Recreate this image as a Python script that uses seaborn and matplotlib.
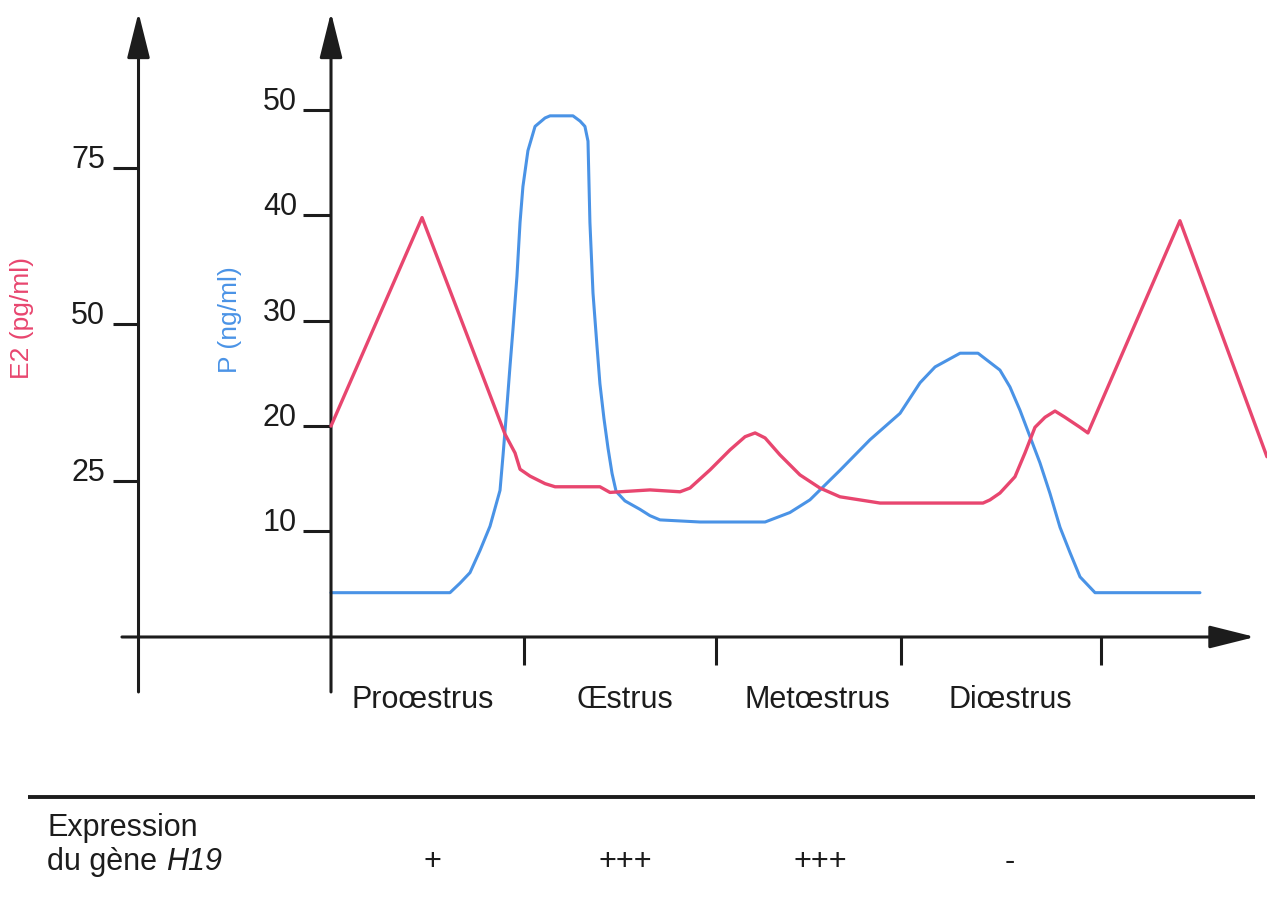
import matplotlib
matplotlib.use("Agg")
import matplotlib.pyplot as plt
import seaborn as sns

# position on the cycle: 0..4 = phase boundaries
e2_x = [0.000, 0.473, 0.904, 0.956, 0.982, 1.034, 1.112, 1.164, 1.397, 1.449,
        1.657, 1.813, 1.865, 1.969, 2.073, 2.151, 2.203, 2.255, 2.332, 2.436,
        2.540, 2.644, 2.748, 2.852, 3.387, 3.423, 3.475, 3.553, 3.605, 3.657,
        3.709, 3.761, 3.813, 3.891, 3.932, 4.410, 4.862]
e2_val = [33.7, 67.0, 32.4, 29.4, 26.8, 25.7, 24.5, 24.0, 24.0, 23.1,
          23.5, 23.2, 23.8, 26.7, 29.9, 32.0, 32.6, 31.8, 29.1, 25.9,
          23.8, 22.4, 21.9, 21.4, 21.4, 21.9, 23.0, 25.6, 29.4, 33.5,
          35.1, 36.1, 35.1, 33.5, 32.6, 66.5, 28.8]

p_x = [0.000, 0.618, 0.670, 0.722, 0.774, 0.826, 0.852, 0.878, 0.894, 0.909,
       0.930, 0.945, 0.966, 0.982, 0.997, 1.023, 1.060, 1.112, 1.138, 1.257,
       1.294, 1.319, 1.335, 1.345, 1.361, 1.382, 1.397, 1.418, 1.439, 1.460,
       1.481, 1.527, 1.605, 1.657, 1.709, 1.917, 2.255, 2.384, 2.488, 2.644,
       2.800, 2.956, 3.060, 3.138, 3.268, 3.361, 3.475, 3.527, 3.579, 3.631,
       3.683, 3.735, 3.787, 3.839, 3.891, 3.969, 4.514]
p_val = [4.2, 4.2, 5.1, 6.1, 8.2, 10.5, 12.2, 13.9, 17.3, 20.7,
         25.7, 29.1, 34.2, 39.3, 42.7, 46.1, 48.4, 49.2, 49.4, 49.4,
         48.9, 48.4, 47.0, 39.3, 32.6, 27.5, 24.0, 20.7, 17.9, 15.5,
         13.8, 12.9, 12.1, 11.5, 11.1, 10.9, 10.9, 11.8, 13.0, 15.8,
         18.7, 21.2, 24.1, 25.6, 26.9, 26.9, 25.3, 23.7, 21.5, 19.0,
         16.5, 13.6, 10.4, 8.0, 5.7, 4.2, 4.2]

e2_ticks = [25, 50, 75]
p_ticks = [10, 20, 30, 40, 50]
phase_ticks = [1.0, 2.0, 2.96, 4.0]
phases = ["Proœstrus", "Œstrus", "Metœstrus", "Diœstrus"]
phase_pos = [0.478, 1.527, 2.525, 3.527]
expression = ["+", "+++", "+++", "-"]
expr_pos = [0.525, 1.527, 2.540, 3.527]

sns.set_theme(style="white")
plt.rcParams["font.family"] = ["Liberation Sans", "DejaVu Sans"]

pink = "#e8466f"
blue = "#4a93e6"
ink = "#1c1c1c"

fig = plt.figure(figsize=(12.67, 9.02), dpi=100)
ax = fig.add_axes([0, 0, 1, 1])
ax.set_xlim(-1.7195, 4.8623)
ax.set_ylim(-25.12, 60.38)
ax2 = ax.twinx()
ax2.set_ylim(-42.33, 101.76)
ax.set_axis_off()
ax2.set_axis_off()

sns.lineplot(x=p_x, y=p_val, ax=ax, color=blue, lw=2.2, sort=False, estimator=None)
sns.lineplot(x=e2_x, y=e2_val, ax=ax2, color=pink, lw=2.4, sort=False, estimator=None)

arrow = dict(arrowstyle="-|>,head_length=0.8,head_width=0.2", mutation_scale=35,
             lw=2.2, color=ink, shrinkA=0, shrinkB=0)
# two vertical axes and the time axis
ax.annotate("", xy=(-1.0, 59.2), xytext=(-1.0, -5.21), arrowprops=arrow)
ax.annotate("", xy=(0.0, 59.2), xytext=(0.0, -5.21), arrowprops=arrow)
ax.annotate("", xy=(4.80, 0), xytext=(-1.086, 0), arrowprops=arrow)

# y ticks
ax2.hlines(e2_ticks, -1.132, -1.0, color=ink, lw=2.2)
for v in e2_ticks:
    ax2.text(-1.174, v, str(v), ha="right", va="baseline", fontsize=22, color=ink)
ax.hlines(p_ticks, -0.145, 0.0, color=ink, lw=2.2)
for v in p_ticks:
    ax.text(-0.177, v, str(v), ha="right", va="baseline", fontsize=22, color=ink)

ax.text(-1.605, 30.24, "E2 (pg/ml)", rotation=90, ha="center", va="center",
        fontsize=19, color=pink)
ax.text(-0.525, 30.05, "P (ng/ml)", rotation=90, ha="center", va="center",
        fontsize=19, color=blue)

# phase ticks and names
ax.vlines(phase_ticks, -2.7, 0, color=ink, lw=2.2)
for name, x in zip(phases, phase_pos):
    ax.text(x, -5.95, name, ha="center", va="center", fontsize=22, color=ink)

# expression table
ax.hlines(-15.17, -1.574, 4.80, color=ink, lw=2.8)
ax.text(-1.475, -18.1, "Expression", ha="left", va="center", fontsize=22, color=ink)
t = ax.text(-1.475, -21.3, "du gène ", ha="left", va="center", fontsize=22, color=ink)
ax.annotate("H19", xy=(1, 0), xycoords=t, ha="left", va="bottom",
            fontsize=22, style="italic", color=ink)
for mark, x in zip(expression, expr_pos):
    ax.text(x, -21.3, mark, ha="center", va="center", fontsize=22, color=ink)

fig.savefig("out.png", dpi=100, facecolor="white")
